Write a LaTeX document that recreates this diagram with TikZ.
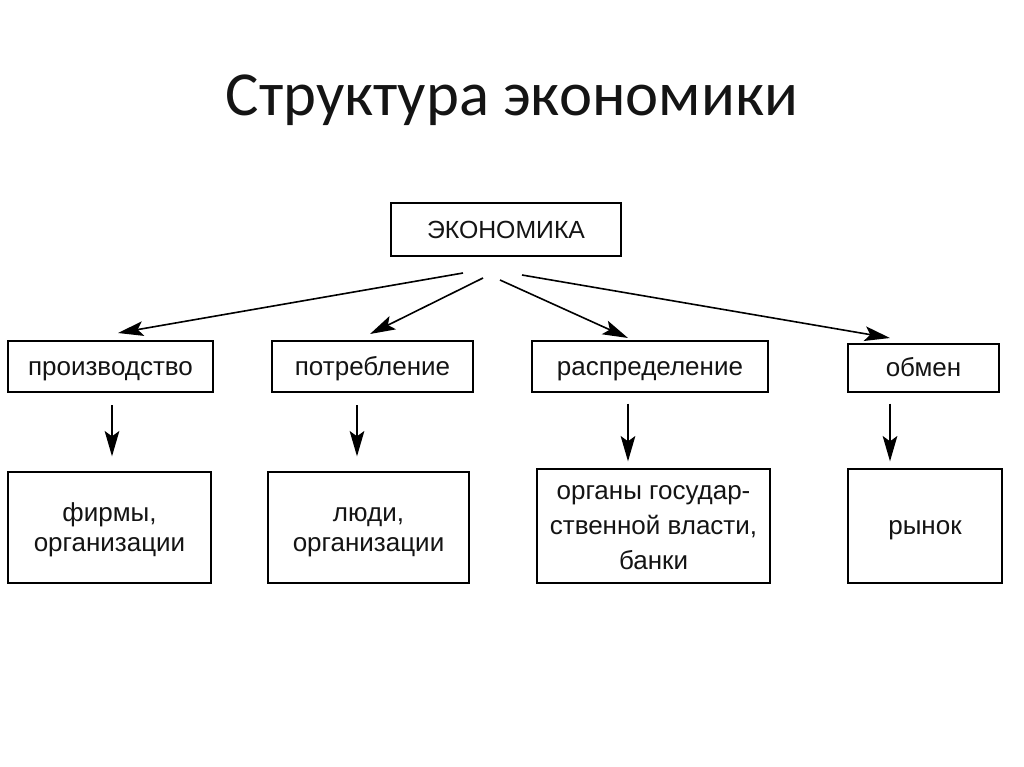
\documentclass[tikz,border=0pt]{standalone}
\usepackage{fontspec}
\setmainfont{Liberation Sans}
\newfontfamily\titlefont{Carlito}
\usetikzlibrary{arrows.meta,calc}
\newcommand\bxs{\rule[-4.85pt]{0pt}{22.5pt}}
\begin{document}
\begin{tikzpicture}[x=0.75pt,y=-0.75pt,
  box/.style={draw=black, line width=1.5pt, inner sep=0pt, align=center,
    font=\fontsize{19.5}{22.5}\selectfont, text=black!92},
  arr/.style={line width=1.2pt, draw=black,
    -{Stealth[length=19pt,width=11pt,inset=4pt]}}]
\useasboundingbox (0,0) rectangle (1024,767);
\fill[white] (0,0) rectangle (1024,767);
% title
\node[font=\titlefont\fontsize{47}{54}\selectfont, text=black!92, anchor=base] (title) at (512,115) {Структура экономики};
% top box
\node[box, minimum width=230*0.75pt, minimum height=53*0.75pt, font=\fontsize{18.6}{22.5}\selectfont] (econ) at (506,229.5) {\bxs ЭКОНОМИКА};
% second row
\node[box, minimum width=205*0.75pt, minimum height=51*0.75pt] (prod) at (110.5,366.5) {\bxs производство};
\node[box, minimum width=201*0.75pt, minimum height=51*0.75pt] (cons) at (372.5,366.5) {\bxs потребление};
\node[box, minimum width=236*0.75pt, minimum height=51*0.75pt] (dist) at (650,366.5) {\bxs распределение};
\node[box, minimum width=151*0.75pt, minimum height=48*0.75pt] (exch) at (923.5,368) {\bxs обмен};
% third row
\node[box, minimum width=203*0.75pt, minimum height=111*0.75pt] (firm) at (109.5,527.5) {\bxs фирмы,\\\bxs организации};
\node[box, minimum width=201*0.75pt, minimum height=111*0.75pt] (people) at (368.5,527.5) {\bxs люди,\\\bxs организации};
\node[box, minimum width=233*0.75pt, minimum height=114*0.75pt,
  font=\fontsize{19.5}{26}\selectfont] (gov) at (653.5,526) {\bxs органы государ-\\\bxs ственной власти,\\\bxs банки};
\node[box, minimum width=154*0.75pt, minimum height=114*0.75pt] (market) at (925,526) {\bxs рынок};
% arrow coordinates
\coordinate (s1) at (463,273);
\coordinate (s2) at (483,278);
\coordinate (s3) at (500,280);
\coordinate (s4) at (522,275);
\coordinate (t1) at (118,333);
\coordinate (t2) at (370,334);
\coordinate (t3) at (628,338);
\coordinate (t4) at (890,338);
\coordinate (v1) at (112,0);
\coordinate (v2) at (357,0);
\coordinate (v3) at (628,0);
\coordinate (v4) at (890,0);
% diagonal arrows
\draw[arr] (s1) -- (t1);
\draw[arr] (s2) -- (t2);
\draw[arr] (s3) -- (t3);
\draw[arr] (s4) -- (t4);
% vertical arrows
\draw[arr, shorten <=9pt, shorten >=11pt] (prod.south -| v1) -- (firm.north -| v1);
\draw[arr, shorten <=9pt, shorten >=11pt] (cons.south -| v2) -- (people.north -| v2);
\draw[arr, shorten <=8pt, shorten >=5pt] (dist.south -| v3) -- (gov.north -| v3);
\draw[arr, shorten <=8pt, shorten >=5pt] (exch.south -| v4) -- (market.north -| v4);
\end{tikzpicture}
\end{document}
